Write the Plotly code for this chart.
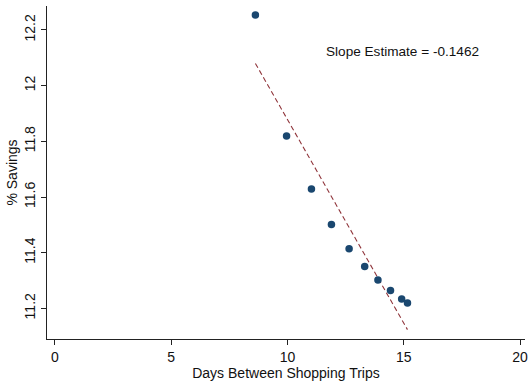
import plotly.graph_objects as go

# Binned means of days between trips vs. percent savings
days = [8.62, 9.96, 11.03, 11.89, 12.65, 13.32, 13.89, 14.43, 14.91, 15.16]
savings = [12.254, 11.819, 11.629, 11.501, 11.414, 11.350, 11.302, 11.264, 11.234, 11.219]

# Fitted line from the regression
slope = -0.1462
intercept = 13.34

x_ticks = [0, 5, 10, 15, 20]
y_ticks = [11.2, 11.4, 11.6, 11.8, 12.0, 12.2]
y_tick_text = ["11.2", "11.4", "11.6", "11.8", "12", "12.2"]

font_family = "Arial, Liberation Sans, sans-serif"
navy = "#1a476f"
maroon = "#90353b"

fit_x = [min(days), max(days)]
fit_y = [intercept + slope * v for v in fit_x]

fig = go.Figure()
fig.add_trace(go.Scatter(
    x=fit_x, y=fit_y, mode="lines",
    line=dict(color=maroon, width=1.1, dash="5px,3px"),
    hoverinfo="skip", showlegend=False,
))
fig.add_trace(go.Scatter(
    x=days, y=savings, mode="markers",
    marker=dict(color=navy, size=7.5, line=dict(width=0)),
    showlegend=False,
))

fig.add_annotation(
    x=14.96, y=12.121, xref="x", yref="y",
    text=f"Slope Estimate = {slope:.4f}",
    showarrow=False, font=dict(family=font_family, size=13.6, color="#111111"),
)

fig.update_layout(
    width=528, height=381,
    margin=dict(l=47, r=0, t=6, b=42),
    paper_bgcolor="white", plot_bgcolor="white",
    font=dict(family=font_family, size=13, color="#111111"),
)
fig.update_xaxes(
    range=[-0.342, 20.214], tickvals=x_ticks,
    showgrid=False, zeroline=False,
    showline=True, linecolor="#222222", linewidth=1.2,
    ticks="outside", ticklen=5, tickcolor="#222222", tickwidth=1.2,
    tickfont=dict(size=14), ticklabeloverflow="allow",
    title=dict(text="Days Between Shopping Trips", font=dict(size=14), standoff=1),
)
fig.update_yaxes(
    range=[11.09, 12.286], tickvals=y_ticks, ticktext=y_tick_text,
    tickangle=-90,
    showgrid=False, zeroline=False,
    showline=True, linecolor="#222222", linewidth=1.2,
    ticks="outside", ticklen=5, tickcolor="#222222", tickwidth=1.2,
    tickfont=dict(size=14),
    title=dict(text="% Savings", font=dict(size=14), standoff=1),
)

fig.write_html("out.html")
